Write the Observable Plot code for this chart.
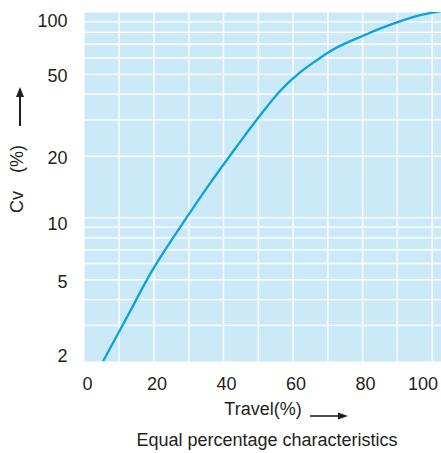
<!DOCTYPE html>
<html>
<head>
<meta charset="utf-8">
<script src="https://cdn.jsdelivr.net/npm/d3@7"></script>
<script src="https://cdn.jsdelivr.net/npm/@observablehq/plot@0.6"></script>
<style>
  html, body { margin: 0; padding: 0; background: #fff; }
  #chart svg { display: block; }
</style>
</head>
<body>
<div id="chart"></div>
<script>
// Travel (%) and Cv (%)
const travel = [5.3, 12.4, 19.5, 24.2, 29.1, 36.3, 43.4, 50.6, 56.4, 62.1, 66.5, 70.8, 80.3, 90.1, 97.5, 102.7];
const cv     = [2.0, 3.33, 5.55, 7.42, 9.88, 14.9, 21.8, 31.7, 41.7, 51.2, 58.1, 65.0, 77.3, 89.7, 97.8, 101.7];

// Axis ticks and grid
const xTicks = [0, 20, 40, 60, 80, 100];
const yTicks = [2, 5, 10, 20, 50, 100];
const xGrid = [10, 20, 30, 40, 50, 60, 70, 80, 90, 100];
const yGrid = [3, 4, 5, 6, 7, 8, 9, 10, 20, 30, 40, 50, 60, 70, 80, 90];

const xLabel = "Travel(%)";
const yLabelA = "Cv";
const yLabelB = "(%)";
const caption = "Equal percentage characteristics";

const data = travel.map((t, i) => ({travel: t, cv: cv[i]}));

const ink = "#231f20";
const fmt = d => String(d);
const xAx = {tickSize: 0, tickPadding: 16, label: null, tickFormat: fmt, fontSize: 18};
const yAx = {tickSize: 0, tickPadding: 17, label: null, tickFormat: fmt, fontSize: 18};
const last = xTicks[xTicks.length - 1];

const chart = Plot.plot({
  width: 441,
  height: 453,
  marginLeft: 84,
  marginRight: 0,
  marginTop: 12,
  marginBottom: 92,
  style: {fontFamily: "'Liberation Sans', Arial, sans-serif", fontSize: "18px", color: ink, background: "#fff"},
  x: {domain: [0, 102.7], label: null},
  y: {type: "log", domain: [2, 100], label: null},
  marks: [
    Plot.frame({fill: "#cce9f8", stroke: "none"}),
    Plot.ruleX(xGrid, {stroke: "#ffffff", strokeWidth: 1.4}),
    Plot.ruleY(yGrid, {stroke: "#ffffff", strokeWidth: 1.4}),
    Plot.line(data, {x: "travel", y: "cv", stroke: "#0aa2dd", strokeWidth: 2.3, clip: true, curve: "monotone-x"}),
    Plot.axisX(xTicks.filter(d => d !== last), {...xAx, dx: 3}),
    Plot.axisX([last], {...xAx, dx: -9}),
    Plot.axisY(yTicks.filter(d => d === 5 || d === 20 || d === 50), {...yAx, dy: 2}),
    Plot.axisY(yTicks.filter(d => d === 100), {...yAx, dy: 9}),
    Plot.axisY(yTicks.filter(d => d === 10), {...yAx, dy: 6}),
    Plot.axisY(yTicks.filter(d => d === 2), {...yAx, dy: -5}),
    Plot.text([xLabel], {text: d => d, frameAnchor: "bottom", dy: 48, lineAnchor: "middle", fontSize: 18, fill: ink}),
    Plot.text([caption], {text: d => d, frameAnchor: "bottom", dx: 4, dy: 79, lineAnchor: "middle", fontSize: 18, fill: ink}),
    Plot.text([yLabelA], {text: d => d, frameAnchor: "left", dx: -67, dy: 15, rotate: -90, textAnchor: "middle", lineAnchor: "middle", fontSize: 18, fill: ink}),
    Plot.text([yLabelB], {text: d => d, frameAnchor: "left", dx: -67, dy: -28, rotate: -90, textAnchor: "middle", lineAnchor: "middle", fontSize: 18, fill: ink})
  ]
});
document.getElementById("chart").appendChild(chart);

// decorative arrows beside the axis titles
const svg = d3.select(chart.tagName.toLowerCase() === "svg" ? chart : chart.querySelector("svg"));
const g = svg.append("g").attr("fill", ink).attr("stroke", ink);
// y arrow (pointing up)
g.append("line").attr("x1", 20).attr("y1", 126).attr("x2", 20).attr("y2", 95).attr("stroke-width", 2);
g.append("path").attr("d", "M20,87 L16,97 L24,97 Z").attr("stroke", "none");
// x arrow (pointing right)
g.append("line").attr("x1", 310).attr("y1", 416).attr("x2", 340).attr("y2", 416).attr("stroke-width", 1.6);
g.append("path").attr("d", "M348,416 L338,412.5 L338,419.5 Z").attr("stroke", "none");
</script>
</body>
</html>
